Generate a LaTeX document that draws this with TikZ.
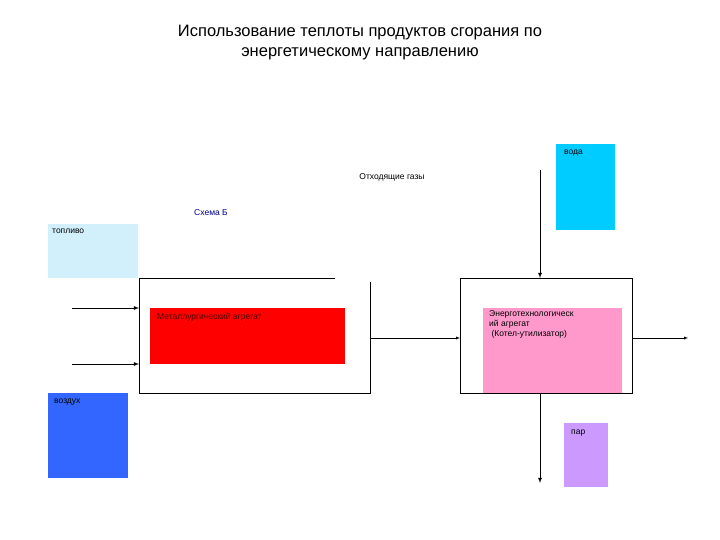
\documentclass[tikz,border=0pt]{standalone}
\usepackage{fontspec}
\setmainfont{Liberation Sans}
\begin{document}
\begin{tikzpicture}[x=1pt,y=-1pt,
  lbl/.style={font=\fontsize{8.5}{10}\selectfont,inner sep=0pt},
  fillbox/.style={inner sep=0pt,anchor=north west},
  arr/.style={-latex,thick},
  ln/.style={line width=0.8pt}]
\useasboundingbox (0,0) rectangle (720,540);
\node[font=\fontsize{16.5}{20}\selectfont,align=center] (title) at (360,43) {Использование теплоты продуктов сгорания по\\энергетическому направлению};
% colored boxes
\fill[cyan!18] (48,224) rectangle (138,278);
\coordinate (topl) at (48,224);
\node[lbl,anchor=north west] (t1) at (52,229) {топливо};
\fill[blue!55!cyan!80!black!100,fill=blue!80!white] (48,393) rectangle (128,478);
\fill[fill={rgb,255:red,51;green,102;blue,255}] (48,393) rectangle (128,478);
\node[lbl,anchor=north west] (t2) at (54,399) {воздух};
\fill[fill={rgb,255:red,0;green,204;blue,255}] (556,144) rectangle (615,230);
\node[lbl,anchor=north west] (t3) at (564,150) {вода};
\fill[fill={rgb,255:red,204;green,153;blue,255}] (564,423) rectangle (608,487);
\node[lbl,anchor=north west] (t4) at (571,430) {пар};
% left unit
\draw[ln] (335,278) -- (139,278) -- (139,393) -- (370,393) -- (370,282);
\coordinate (lb) at (139,278);
\fill[red] (150,308) rectangle (345,364);
\node[lbl,anchor=north west,text=black!70!red] (met) at (157,313) {Металлургический агрегат};
% right unit
\draw[ln] (460,278) rectangle (632,393);
\fill[fill={rgb,255:red,255;green,153;blue,204}] (483,308) rectangle (622,393);
\draw[ln] (460,393) -- (483,393);\draw[ln] (622,393)--(632,393);
\node[lbl,anchor=north west,align=left] (en) at (489,310) {Энерготехнологическ\\ий агрегат\\\ (Котел-утилизатор)};
\node[lbl] (gas) at (392,177) {Отходящие газы};
\node[lbl,text={rgb,255:red,0;green,0;blue,140}] (sch) at (211,213) {Схема Б};
% arrows
\coordinate (a1) at (72,308); \coordinate (a1e) at (139,308);
\coordinate (a2) at (72,364); \coordinate (a2e) at (139,364);
\draw[arr] (a1) -- (a1e);
\draw[arr] (a2) -- (a2e);
\coordinate (m1) at (370,338); \coordinate (m2) at (460,338);
\draw[-latex] (m1) -- (m2);
\coordinate (o1) at (632,338); \coordinate (o2) at (688,338);
\draw[-latex] (o1) -- (o2);
\coordinate (w1) at (540,170); \coordinate (w2) at (540,278);
\draw[arr] (w1) -- (w2);
\coordinate (p1) at (540,393); \coordinate (p2) at (540,483);
\draw[arr] (p1) -- (p2);
\end{tikzpicture}
\end{document}
